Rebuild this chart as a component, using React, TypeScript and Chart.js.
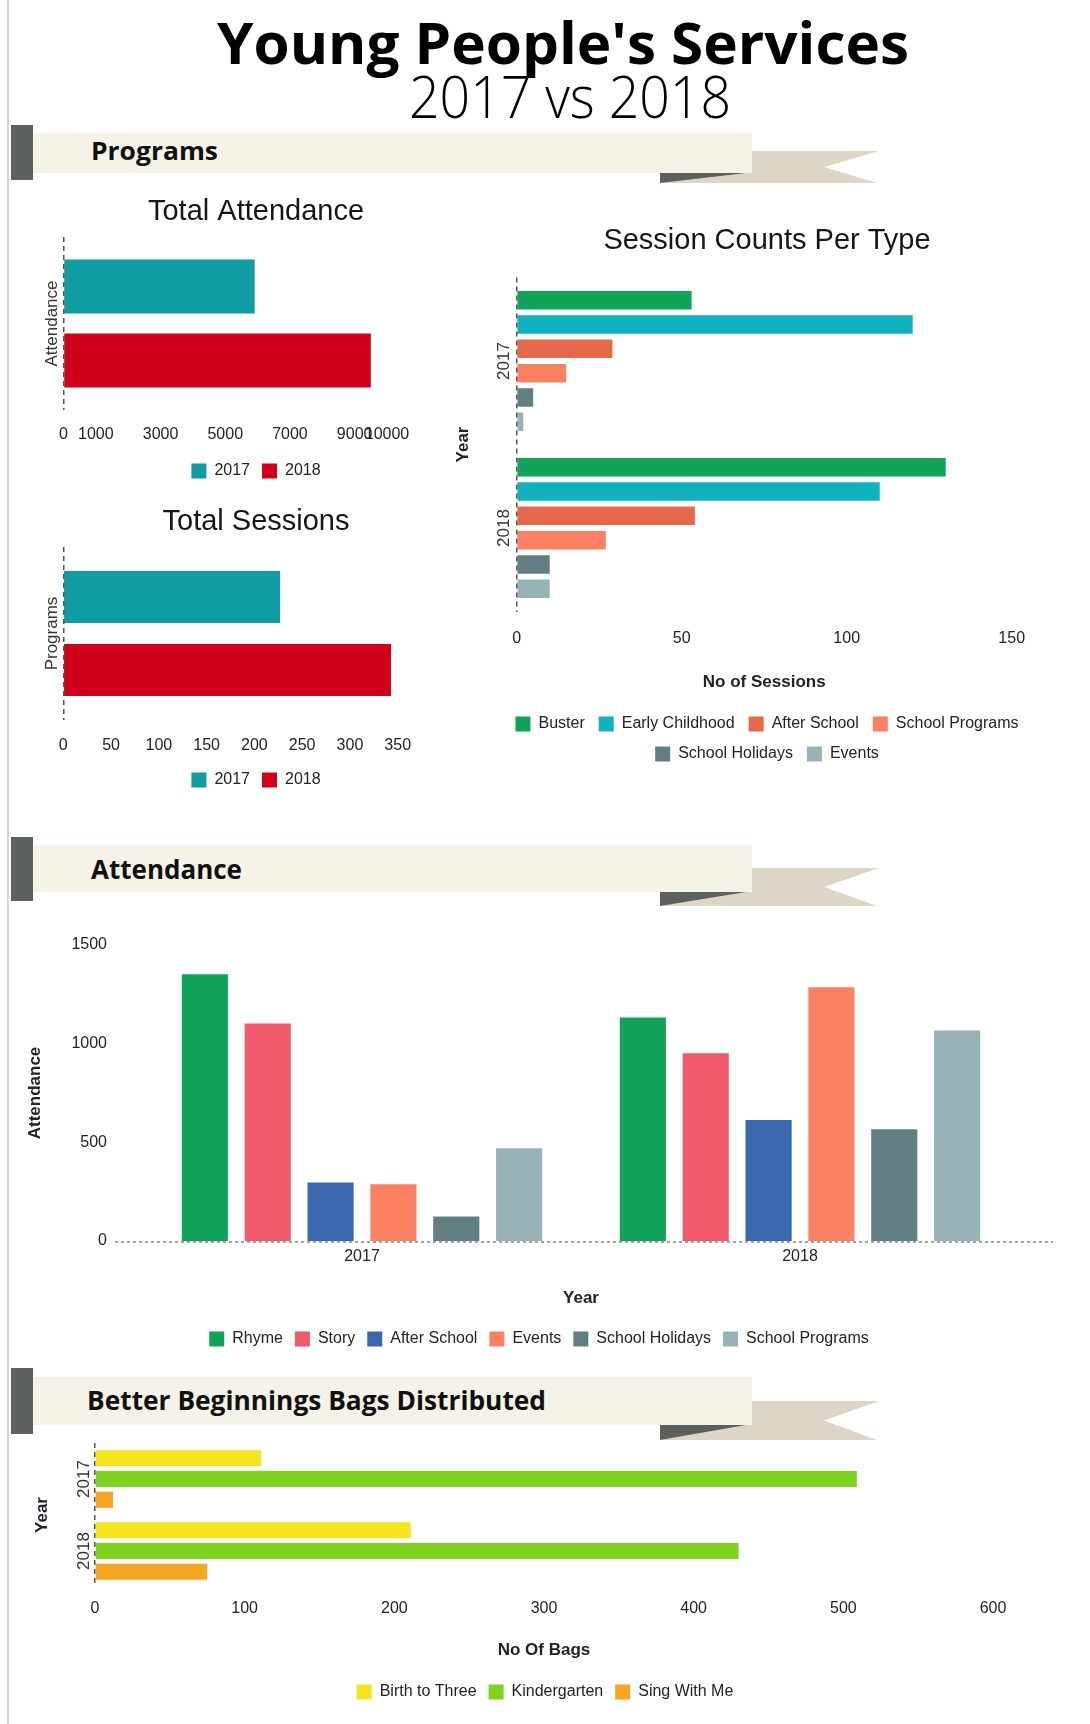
import React, { useEffect, useRef } from 'react';
import { Chart, registerables } from 'chart.js';

Chart.register(...registerables);

const FONT = "'Liberation Sans', Arial, Helvetica, sans-serif";
const HEAD_FONT = "'Open Sans', 'Noto Sans', 'DejaVu Sans', sans-serif";
const TEXT = '#22222c';
Chart.defaults.font.family = FONT;

// ---------------- data ----------------
const yearLabels = ['2017', '2018'];

const totalAttendanceCategory = ['Attendance'];
const totalAttendance2017 = [5910];
const totalAttendance2018 = [9500];
const attendanceTickValues = [0, 1000, 3000, 5000, 7000, 9000, 10000];

const totalSessionsCategory = ['Programs'];
const totalSessions2017 = [227];
const totalSessions2018 = [343];

const busterSessions = [53, 130];
const earlyChildhoodSessions = [120, 110];
const afterSchoolSessions = [29, 54];
const schoolProgramsSessions = [15, 27];
const schoolHolidaysSessions = [5, 10];
const eventsSessions = [2, 10];

const rhymeAttendance = [1352, 1132];
const storyAttendance = [1102, 951];
const afterSchoolAttendance = [296, 613];
const eventsAttendance = [287, 1286];
const schoolHolidaysAttendance = [124, 566];
const schoolProgramsAttendance = [470, 1067];

const birthToThreeBags = [111, 211];
const kindergartenBags = [509, 430];
const singWithMeBags = [12, 75];

// ---------------- colours ----------------
const TEAL = '#0f9ca3';
const RED = '#d0021b';
const GREEN = '#12a35a';
const CYAN = '#0fb3bd';
const ORANGE_RED = '#e7694b';
const SALMON = '#fc8163';
const SLATE = '#617f82';
const LIGHT_SLATE = '#97b3b7';
const PINK = '#f15a6c';
const BLUE = '#3a67ad';
const YELLOW = '#f6e51e';
const LIME = '#7ed321';
const AMBER = '#f5a623';

// ---------------- helpers ----------------
const noGrid = { display: false, drawTicks: false };
// a dashed vertical line at value 0 of the value axis, drawn above the bars
const zeroGrid = {
  display: true,
  drawTicks: false,
  drawOnChartArea: true,
  color: (c: any) => (c.tick && c.tick.value === 0 ? '#555' : 'rgba(0,0,0,0)'),
  lineWidth: 1.5,
  z: 1,
};
const dashBorder = { display: false, dash: [5, 4] };

function padAxis(id: string, position: 'right' | 'top', size: number) {
  return {
    [id]: {
      type: 'linear',
      position,
      axis: position === 'right' ? 'y' : 'x',
      display: true,
      grid: noGrid,
      border: { display: false },
      ticks: { display: false },
      afterFit: (s: any) => {
        if (position === 'right') s.width = size;
        else s.height = size;
      },
    },
  };
}

function legendOpts(padding: number) {
  return {
    display: true,
    position: 'bottom',
    labels: { boxWidth: 15, boxHeight: 15, padding, font: { size: 16, family: FONT }, color: TEXT },
  };
}

function titleOpts(text: string, top: number, bottom: number) {
  return {
    display: true,
    text,
    color: '#15151c',
    font: { size: 29, weight: 'normal', family: FONT },
    padding: { top, bottom },
  };
}

const baseOptions = {
  responsive: false,
  animation: false,
  devicePixelRatio: 1,
  layout: { padding: 0 },
  events: [],
};

function ds(label: string, data: number[], color: string) {
  return { label, data, backgroundColor: color, borderWidth: 0, xAxisID: 'x', yAxisID: 'y' };
}

// ---------------- configs ----------------
const configA: any = {
  type: 'bar',
  data: {
    labels: totalAttendanceCategory,
    datasets: [ds('2017', totalAttendance2017, TEAL), ds('2018', totalAttendance2018, RED)],
  },
  options: {
    ...baseOptions,
    indexAxis: 'y',
    datasets: { bar: { categoryPercentage: 0.855, barPercentage: 0.73 } },
    plugins: { title: titleOpts('Total Attendance', 9.3, 7.9), legend: legendOpts(12), tooltip: { enabled: false } },
    scales: {
      x: {
        type: 'linear', min: 0, max: 10000, grid: zeroGrid, border: dashBorder,
        ticks: { font: { size: 16 }, color: TEXT, padding: 15.4, autoSkip: false, maxRotation: 0, callback: (v: any) => String(v) },
        afterBuildTicks: (s: any) => { s.ticks = attendanceTickValues.map((v) => ({ value: v })); },
        afterFit: (s: any) => { s.height = 41; },
      },
      y: {
        type: 'category', grid: noGrid, border: { display: false },
        ticks: { font: { size: 17 }, color: '#333', minRotation: 90, maxRotation: 90, crossAlign: 'center', padding: -31.5 },
        afterFit: (s: any) => { s.width = 43.5; },
      },
      ...padAxis('padR', 'right', 105),
    },
  },
};

const configB: any = {
  type: 'bar',
  data: {
    labels: totalSessionsCategory,
    datasets: [ds('2017', totalSessions2017, TEAL), ds('2018', totalSessions2018, RED)],
  },
  options: {
    ...baseOptions,
    indexAxis: 'y',
    datasets: { bar: { categoryPercentage: 0.844, barPercentage: 0.712 } },
    plugins: { title: titleOpts('Total Sessions', 9.3, 7.9), legend: legendOpts(12), tooltip: { enabled: false } },
    scales: {
      x: {
        type: 'linear', min: 0, max: 350, grid: zeroGrid, border: dashBorder,
        ticks: { stepSize: 50, font: { size: 16 }, color: TEXT, padding: 16.4, autoSkip: false, maxRotation: 0, callback: (v: any) => String(v) },
        afterFit: (s: any) => { s.height = 40; },
      },
      y: {
        type: 'category', grid: noGrid, border: { display: false },
        ticks: { font: { size: 17 }, color: '#333', minRotation: 90, maxRotation: 90, crossAlign: 'center', padding: -25.5 },
        afterFit: (s: any) => { s.width = 43.3; },
      },
      ...padAxis('padR', 'right', 94.3),
    },
  },
};

const configC: any = {
  type: 'bar',
  data: {
    labels: yearLabels,
    datasets: [
      ds('Buster', busterSessions, GREEN),
      ds('Early Childhood', earlyChildhoodSessions, CYAN),
      ds('After School', afterSchoolSessions, ORANGE_RED),
      ds('School Programs', schoolProgramsSessions, SALMON),
      ds('School Holidays', schoolHolidaysSessions, SLATE),
      ds('Events', eventsSessions, LIGHT_SLATE),
    ],
  },
  options: {
    ...baseOptions,
    indexAxis: 'y',
    datasets: { bar: { categoryPercentage: 0.874, barPercentage: 0.76 } },
    plugins: { title: titleOpts('Session Counts Per Type', 8.6, 19.1), legend: legendOpts(14), tooltip: { enabled: false } },
    scales: {
      x: {
        type: 'linear', min: 0, max: 150, grid: zeroGrid, border: dashBorder,
        ticks: { stepSize: 50, font: { size: 16 }, color: TEXT, padding: 17.9, autoSkip: false, maxRotation: 0, callback: (v: any) => String(v) },
        title: { display: true, text: 'No of Sessions', color: TEXT, font: { size: 17, weight: 'bold' }, padding: { top: 0, bottom: 9.8 } },
        afterFit: (s: any) => { s.height = 90.5; },
      },
      y: {
        type: 'category', grid: noGrid, border: { display: false },
        ticks: { font: { size: 17 }, color: '#333', minRotation: 90, maxRotation: 90, crossAlign: 'center', padding: -7 },
        title: { display: true, text: 'Year', color: TEXT, font: { size: 17, weight: 'bold' }, padding: { top: 2.8, bottom: 0 } },
        afterFit: (s: any) => { s.width = 66.7; },
      },
      ...padAxis('padR', 'right', 72.3),
    },
  },
};

const zeroLinePlugin = {
  id: 'zeroLine',
  beforeDatasetsDraw(chart: any) {
    const { ctx, chartArea, scales } = chart;
    const y = scales.y.getPixelForValue(0);
    ctx.save();
    ctx.strokeStyle = '#a3a3a3';
    ctx.lineWidth = 2;
    ctx.setLineDash([3, 3]);
    ctx.beginPath();
    ctx.moveTo(chartArea.left - 28, y + 1);
    ctx.lineTo(chartArea.right + 34, y + 1);
    ctx.stroke();
    ctx.restore();
  },
};

const configD: any = {
  type: 'bar',
  data: {
    labels: yearLabels,
    datasets: [
      ds('Rhyme', rhymeAttendance, GREEN),
      ds('Story', storyAttendance, PINK),
      ds('After School', afterSchoolAttendance, BLUE),
      ds('Events', eventsAttendance, SALMON),
      ds('School Holidays', schoolHolidaysAttendance, SLATE),
      ds('School Programs', schoolProgramsAttendance, LIGHT_SLATE),
    ],
  },
  plugins: [zeroLinePlugin],
  options: {
    ...baseOptions,
    datasets: { bar: { categoryPercentage: 0.861, barPercentage: 0.734 } },
    plugins: { title: { display: false }, legend: legendOpts(12), tooltip: { enabled: false } },
    scales: {
      x: {
        type: 'category', grid: noGrid, border: { display: false },
        ticks: { font: { size: 16 }, color: TEXT, padding: 6.4, maxRotation: 0 },
        title: { display: true, text: 'Year', color: TEXT, font: { size: 17, weight: 'bold' }, padding: { top: 0, bottom: 10.8 } },
        afterFit: (s: any) => { s.height = 78; },
      },
      y: {
        type: 'linear', min: 0, max: 1500, grid: noGrid, border: { display: false },
        ticks: { stepSize: 500, font: { size: 16 }, color: TEXT, padding: 36, callback: (v: any) => String(v) },
        title: { display: true, text: 'Attendance', color: TEXT, font: { size: 17, weight: 'bold' }, padding: { top: 14.8, bottom: 0 } },
        afterFit: (s: any) => { s.width = 133; },
      },
      ...padAxis('padR', 'right', 49),
      ...padAxis('padT', 'top', 60),
    },
  },
};

const configE: any = {
  type: 'bar',
  data: {
    labels: yearLabels,
    datasets: [
      ds('Birth to Three', birthToThreeBags, YELLOW),
      ds('Kindergarten', kindergartenBags, LIME),
      ds('Sing With Me', singWithMeBags, AMBER),
    ],
  },
  options: {
    ...baseOptions,
    indexAxis: 'y',
    datasets: { bar: { categoryPercentage: 0.8625, barPercentage: 0.78 } },
    plugins: { title: { display: false }, legend: legendOpts(12), tooltip: { enabled: false } },
    scales: {
      x: {
        type: 'linear', min: 0, max: 600, grid: zeroGrid, border: dashBorder,
        ticks: { stepSize: 100, font: { size: 16 }, color: TEXT, padding: 12.4, autoSkip: false, maxRotation: 0, callback: (v: any) => String(v) },
        title: { display: true, text: 'No Of Bags', color: TEXT, font: { size: 17, weight: 'bold' }, padding: { top: 0, bottom: 11.8 } },
        afterFit: (s: any) => { s.height = 85; },
      },
      y: {
        type: 'category', grid: noGrid, border: { display: false },
        ticks: { font: { size: 17 }, color: '#333', minRotation: 90, maxRotation: 90, crossAlign: 'center', padding: -7.9 },
        title: { display: true, text: 'Year', color: TEXT, font: { size: 17, weight: 'bold' }, padding: { top: 21.8, bottom: 0 } },
        afterFit: (s: any) => { s.width = 85; },
      },
      ...padAxis('padR', 'right', 87),
      ...padAxis('padT', 'top', 20),
    },
  },
};

// ---------------- components ----------------
function ChartBox({ left, top, width, height, config }: any) {
  const ref = useRef<HTMLCanvasElement>(null);
  useEffect(() => {
    const chart = new Chart(ref.current as HTMLCanvasElement, config);
    return () => chart.destroy();
  }, [config]);
  return (
    <canvas
      ref={ref}
      width={width}
      height={height}
      style={{ position: 'absolute', left, top, width, height }}
    />
  );
}

function Banner({ darkTop, darkH, bandTop, bandH, tailTop, tailH, text, textX, baseline, fontSize, textLength }: any) {
  const tailL = 660;
  const tailR = 879;
  const notchX = 824;
  const bandL = 33;
  const bandR = 752;
  const triR = 746;
  const bandBottom = bandTop + bandH;
  const tailBottom = tailTop + tailH;
  return (
    <g>
      <polygon
        points={`${tailL},${tailTop} ${tailR},${tailTop} ${notchX},${tailTop + tailH / 2} ${tailR - 2},${tailBottom} ${tailL},${tailBottom}`}
        fill="#ddd5c6"
      />
      <polygon points={`${tailL},${bandBottom} ${triR},${bandBottom} ${tailL},${tailBottom}`} fill="#5c615e" />
      <rect x={bandL} y={bandTop} width={bandR - bandL} height={bandH} fill="#f5f3e7" />
      <rect x={11} y={darkTop} width={22} height={darkH} fill="#5c615e" />
      <text
        x={textX}
        y={baseline}
        fontFamily={HEAD_FONT}
        fontWeight={700}
        fontSize={fontSize}
        fill="#111"
        textLength={textLength}
        lengthAdjust="spacingAndGlyphs"
      >
        {text}
      </text>
    </g>
  );
}

export default function App() {
  return (
    <div style={{ position: 'absolute', left: 0, top: 0, width: 1090, height: 1724, background: '#fff', overflow: 'hidden' }}>
      <svg width={1090} height={1724} style={{ position: 'absolute', left: 0, top: 0 }}>
        <rect x={7} y={0} width={2} height={1724} fill="#d4d4d4" />
        <text
          x={217}
          y={63.5}
          fontFamily={HEAD_FONT}
          fontWeight={700}
          fontSize={57}
          fill="#000"
          textLength={692}
          lengthAdjust="spacingAndGlyphs"
        >
          Young People's Services
        </text>
        <text
          x={409}
          y={117.5}
          fontFamily={HEAD_FONT}
          fontWeight={300}
          fontSize={58}
          fill="#000"
          textLength={322}
          lengthAdjust="spacingAndGlyphs"
        >
          2017 vs 2018
        </text>
        <Banner darkTop={125} darkH={55} bandTop={133} bandH={40} tailTop={151} tailH={32}
          text="Programs" textX={91} baseline={159.5} fontSize={25} textLength={127} />
        <Banner darkTop={837} darkH={64} bandTop={845} bandH={47} tailTop={868} tailH={38}
          text="Attendance" textX={91} baseline={879} fontSize={27} textLength={151} />
        <Banner darkTop={1368} darkH={66} bandTop={1377} bandH={48} tailTop={1401} tailH={39}
          text="Better Beginnings Bags Distributed" textX={87} baseline={1410} fontSize={27} textLength={459} />
      </svg>
      <ChartBox left={20} top={185} width={472} height={304} config={configA} />
      <ChartBox left={20} top={495} width={472} height={303} config={configB} />
      <ChartBox left={450} top={215} width={634} height={557} config={configC} />
      <ChartBox left={10} top={885} width={1058} height={472} config={configD} />
      <ChartBox left={10} top={1423} width={1070} height={287} config={configE} />
    </div>
  );
}
